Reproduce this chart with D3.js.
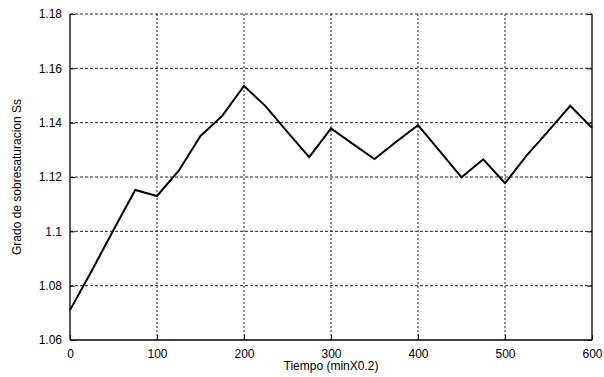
<!DOCTYPE html>
<html>
<head>
<meta charset="utf-8">
<script src="https://cdn.jsdelivr.net/npm/d3@7"></script>
<style>
  body { margin: 0; background: #fff; }
  text { font-family: "Liberation Sans", Arial, sans-serif; fill: #000; }
</style>
</head>
<body>
<svg id="chart" width="604" height="377"></svg>
<script>
// values
var tiempo = [0, 25, 50, 75, 100, 125, 150, 175, 200, 225, 250, 275, 300, 325, 350, 375, 400, 425, 450, 475, 500, 525, 550, 575, 600];
var grado = [1.071, 1.0855, 1.1005, 1.1152, 1.113, 1.1223, 1.1351, 1.1425, 1.1535, 1.146, 1.1365, 1.1273, 1.1379, 1.1322, 1.1266, 1.1330, 1.1391, 1.1295, 1.1199, 1.1265, 1.1177, 1.128, 1.137, 1.1462, 1.1381];
var xTicks = [0, 100, 200, 300, 400, 500, 600];
var yTicks = [1.06, 1.08, 1.1, 1.12, 1.14, 1.16, 1.18];

var svg = d3.select('#chart');

// plot box
var plotLeft = 70, plotRight = 592, plotTop = 14, plotBottom = 340;

var x = d3.scaleLinear().domain([0, 600]).range([plotLeft, plotRight]);
var y = d3.scaleLinear().domain([1.06, 1.18]).range([plotBottom, plotTop]);

// grid lines
svg.selectAll('.hgrid')
  .data(yTicks.filter(function(d){ return d > 1.06; }))
  .enter().append('line')
  .attr('class', 'hgrid')
  .attr('x1', plotLeft).attr('x2', plotRight)
  .attr('y1', function(d){ return y(d); })
  .attr('y2', function(d){ return y(d); })
  .attr('stroke', '#222')
  .attr('stroke-width', 1)
  .attr('stroke-dasharray', '3,2');

svg.selectAll('.vgrid')
  .data(xTicks.filter(function(d){ return d > 0 && d < 600; }))
  .enter().append('line')
  .attr('class', 'vgrid')
  .attr('x1', function(d){ return x(d); })
  .attr('x2', function(d){ return x(d); })
  .attr('y1', plotTop).attr('y2', plotBottom)
  .attr('stroke', '#222')
  .attr('stroke-width', 1)
  .attr('stroke-dasharray', '2,2');

// axes
var yAxis = svg.append('g')
  .attr('transform', 'translate(' + plotLeft + ',0)')
  .call(d3.axisLeft(y).tickValues(yTicks).tickSize(-5).tickPadding(8)
    .tickFormat(function(d){ return d3.format('.2f')(d).replace(/0$/, ''); }));

var yAxisR = svg.append('g')
  .attr('transform', 'translate(' + plotRight + ',0)')
  .call(d3.axisRight(y).tickValues(yTicks).tickSize(-5).tickFormat(''));

var xAxis = svg.append('g')
  .attr('transform', 'translate(0,' + plotBottom + ')')
  .call(d3.axisBottom(x).tickValues(xTicks).tickSize(-5).tickPadding(9).tickFormat(d3.format('d')));

[yAxis, yAxisR, xAxis].forEach(function(a){
  a.selectAll('path').attr('stroke', '#000').attr('stroke-width', 1.3);
  a.selectAll('line').attr('stroke', '#000');
  a.selectAll('text').style('font-size', '12px').attr('fill', '#000');
});

// no outer ticks on the domain paths
yAxis.select('.domain').attr('d', 'M0,' + plotTop + 'V' + plotBottom);
yAxisR.select('.domain').attr('d', 'M0,' + plotTop + 'V' + plotBottom);
xAxis.select('.domain').attr('d', 'M' + plotLeft + ',0H' + plotRight);

// the data line
var line = d3.line()
  .x(function(d, i){ return x(tiempo[i]); })
  .y(function(d){ return y(d); });

svg.append('path')
  .datum(grado)
  .attr('d', line)
  .attr('fill', 'none')
  .attr('stroke', '#000')
  .attr('stroke-width', 2)
  .attr('stroke-linejoin', 'miter');

// labels
svg.append('text')
  .attr('x', (plotLeft + plotRight) / 2)
  .attr('y', 370)
  .attr('text-anchor', 'middle')
  .style('font-size', '12px')
  .text('Tiempo (minX0.2)');

svg.append('text')
  .attr('transform', 'translate(21,' + ((plotTop + plotBottom) / 2) + ') rotate(-90)')
  .attr('text-anchor', 'middle')
  .style('font-size', '12px')
  .text('Grado de sobresaturacion Ss');
</script>
</body>
</html>
